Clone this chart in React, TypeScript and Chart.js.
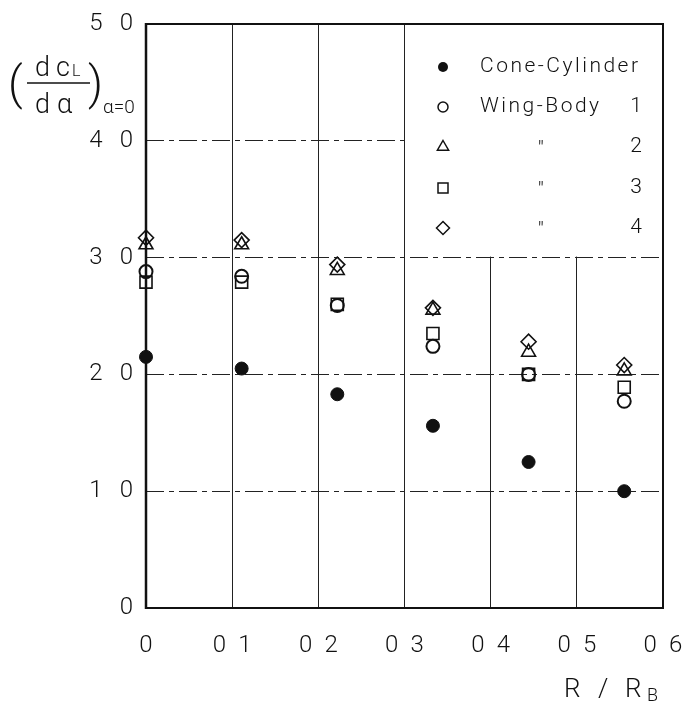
import React, { useEffect, useRef } from "react";
import { Chart, registerables } from "chart.js";

Chart.register(...registerables);

// ---- data ----
const ratioValues = [0, 0.111, 0.222, 0.333, 0.444, 0.555];
const coneCylinder = [2.15, 2.05, 1.83, 1.56, 1.25, 1.0];
const wingBody1 = [2.88, 2.84, 2.59, 2.24, 2.0, 1.77];
const wingBody2 = [3.11, 3.11, 2.89, 2.55, 2.19, 2.03];
const wingBody3 = [2.79, 2.79, 2.6, 2.35, 2.0, 1.89];
const wingBody4 = [3.17, 3.15, 2.94, 2.57, 2.28, 2.08];

const SP = "\u2002";
const SPY = "\u2002\u2009";
const xTickLabels = ["0", "0" + SP + "1", "0" + SP + "2", "0" + SP + "3", "0" + SP + "4", "0" + SP + "5", "0" + SP + "6"];
const yTickLabels = ["0", "1" + SPY + "0", "2" + SPY + "0", "3" + SPY + "0", "4" + SPY + "0", "5" + SPY + "0"];
const legendNames = ["Cone-Cylinder", "Wing-Body", "\"", "\"", "\""];
const legendNumbers = ["", "1", "2", "3", "4"];
const legendStyles = ["dot", "circle", "triangle", "rect", "rectRot"];

const FONT = "Roboto";
const INK = "#111";

function pts(ys: number[]) {
  return ratioValues.map((x, i) => ({ x, y: ys[i] }));
}

function marker(ctx: CanvasRenderingContext2D, style: string, x: number, y: number, r: number) {
  ctx.save();
  ctx.strokeStyle = INK;
  ctx.fillStyle = INK;
  ctx.lineWidth = 1.5;
  ctx.beginPath();
  if (style === "dot") {
    ctx.arc(x, y, r, 0, Math.PI * 2);
    ctx.fill();
  } else if (style === "circle") {
    ctx.arc(x, y, r, 0, Math.PI * 2);
    ctx.stroke();
  } else if (style === "triangle") {
    ctx.moveTo(x, y - r);
    ctx.lineTo(x + r * 0.866, y + r * 0.5);
    ctx.lineTo(x - r * 0.866, y + r * 0.5);
    ctx.closePath();
    ctx.stroke();
  } else if (style === "rect") {
    ctx.rect(x - r, y - r, 2 * r, 2 * r);
    ctx.stroke();
  } else {
    ctx.moveTo(x, y - r);
    ctx.lineTo(x + r, y);
    ctx.lineTo(x, y + r);
    ctx.lineTo(x - r, y);
    ctx.closePath();
    ctx.stroke();
  }
  ctx.restore();
}

const decor = {
  id: "decor",
  beforeDatasetsDraw(chart: any) {
    const { ctx, chartArea: a, scales } = chart;
    const xs = scales.x;
    const ys = scales.y;
    ctx.save();
    // blank legend area (grid lines hidden behind legend)
    ctx.fillStyle = "#fff";
    const lx = xs.getPixelForValue(0.3) + 1;
    const ly = ys.getPixelForValue(3) - 1;
    ctx.fillRect(lx, a.top + 1, a.right - lx - 1, ly - a.top - 1);
    // frame
    ctx.strokeStyle = INK;
    ctx.lineWidth = 2;
    ctx.beginPath();
    ctx.moveTo(a.left, a.top);
    ctx.lineTo(a.right, a.top);
    ctx.lineTo(a.right, a.bottom);
    ctx.lineTo(a.left, a.bottom);
    ctx.stroke();
    ctx.lineWidth = 2.5;
    ctx.beginPath();
    ctx.moveTo(a.left, a.top - 1);
    ctx.lineTo(a.left, a.bottom + 1);
    ctx.stroke();
    ctx.restore();
  },
  afterDraw(chart: any) {
    const { ctx } = chart;
    ctx.save();
    ctx.fillStyle = INK;
    ctx.strokeStyle = INK;

    // legend
    const rows = [67, 107, 147, 188, 228];
    const sizes = [5, 5, 6.5, 5, 6.5];
    legendNames.forEach((name, i) => {
      const y = rows[i];
      marker(ctx, legendStyles[i], 443, y, sizes[i]);
      ctx.font = `300 21px ${FONT}`;
      ctx.textBaseline = "middle";
      (ctx as any).letterSpacing = "2.5px";
      if (i < 2) {
        ctx.textAlign = "left";
        ctx.fillText(name, 480, y);
      } else {
        ctx.textAlign = "center";
        ctx.fillText(name, 542, y + 3);
      }
      (ctx as any).letterSpacing = "0px";
      if (legendNumbers[i]) {
        ctx.textAlign = "right";
        ctx.fillText(legendNumbers[i], 642, y);
      }
    });

    // y-axis title (dCL/dα)α=0
    ctx.textAlign = "left";
    ctx.textBaseline = "alphabetic";
    ctx.font = `300 46px ${FONT}`;
    ctx.fillText("(", 8, 99);
    ctx.fillText(")", 88, 99);
    ctx.font = `300 27px ${FONT}`;
    ctx.fillText("d", 35, 76);
    ctx.fillText("c", 56, 76);
    ctx.font = `300 16px ${FONT}`;
    ctx.fillText("L", 72, 76);
    ctx.font = `300 27px ${FONT}`;
    ctx.fillText("d", 35, 113);
    ctx.fillText("\u03b1", 57, 113);
    ctx.lineWidth = 1.5;
    ctx.beginPath();
    ctx.moveTo(27, 83);
    ctx.lineTo(90, 83);
    ctx.stroke();
    ctx.font = `300 19px ${FONT}`;
    ctx.fillText("\u03b1=0", 103, 113);

    // x-axis title R / RB
    ctx.font = `300 26px ${FONT}`;
    ctx.fillText("R", 564, 697);
    ctx.fillText("/", 598, 697);
    ctx.fillText("R", 625, 697);
    ctx.font = `300 18px ${FONT}`;
    ctx.fillText("B", 647, 701);
    ctx.restore();
  },
};

export default function App() {
  const ref = useRef<HTMLCanvasElement | null>(null);
  useEffect(() => {
    document.body.style.margin = "0";
    if (!ref.current) return;
    const common = { showLine: false, clip: false as any, borderColor: INK };
    const chart = new Chart(ref.current, {
      type: "scatter",
      data: {
        datasets: [
          { ...common, label: "Cone-Cylinder", data: pts(coneCylinder), pointStyle: "circle", pointRadius: 6.5, backgroundColor: INK, pointBorderWidth: 1 },
          { ...common, label: "Wing-Body 1", data: pts(wingBody1), pointStyle: "circle", pointRadius: 6.5, backgroundColor: "rgba(0,0,0,0)", pointBorderWidth: 2 },
          { ...common, label: "Wing-Body 2", data: pts(wingBody2), pointStyle: "triangle", pointRadius: 8, backgroundColor: "rgba(0,0,0,0)", pointBorderWidth: 1.6 },
          { ...common, label: "Wing-Body 3", data: pts(wingBody3), pointStyle: "rect", pointRadius: 8.5, backgroundColor: "rgba(0,0,0,0)", pointBorderWidth: 1.6 },
          { ...common, label: "Wing-Body 4", data: pts(wingBody4), pointStyle: "rectRot", pointRadius: 7.5, backgroundColor: "rgba(0,0,0,0)", pointBorderWidth: 1.6 },
        ] as any,
      },
      options: {
        animation: false,
        responsive: false,
        events: [],
        layout: { padding: { left: 0, top: 24, right: 22, bottom: 0 } },
        plugins: { legend: { display: false }, tooltip: { enabled: false }, title: { display: false } },
        scales: {
          x: {
            type: "linear",
            min: 0,
            max: 0.6,
            afterFit: (s: any) => { s.height = 94; s.paddingLeft = 0; s.paddingRight = 0; },
            ticks: {
              stepSize: 0.1,
              padding: 24,
              color: INK,
              font: { family: FONT, size: 24, weight: "300" as any },
              callback: (v: any) => xTickLabels[Math.round(Number(v) * 10)] ?? "",
            },
            grid: { color: "#222", lineWidth: 1, drawTicks: false },
            border: { display: false },
          },
          y: {
            type: "linear",
            min: 0,
            max: 5,
            afterFit: (s: any) => { s.width = 146; s.paddingTop = 0; s.paddingBottom = 0; },
            ticks: {
              stepSize: 1,
              padding: 13,
              color: INK,
              font: { family: FONT, size: 24, weight: "300" as any },
              callback: (v: any) => yTickLabels[Math.round(Number(v))] ?? "",
            },
            grid: { color: "#222", lineWidth: 1, drawTicks: false },
            border: { display: false, dash: [18, 5, 5, 5] },
          },
        },
      } as any,
      plugins: [decor],
    });
    return () => chart.destroy();
  }, []);
  return (
    <div style={{ width: 685, height: 702, background: "#fff" }}>
      <canvas ref={ref} width={685} height={702} />
    </div>
  );
}
